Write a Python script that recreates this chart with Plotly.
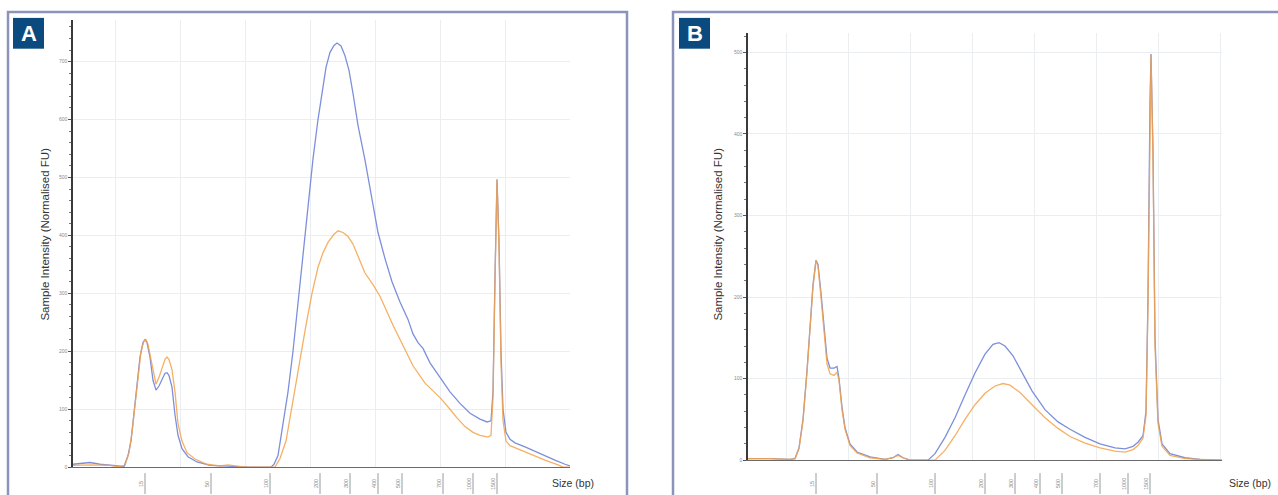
import plotly.graph_objects as go

W, H = 1278, 495

# ---------------- data ----------------
# migration position units (arbitrary), intensity (normalised FU)
a_blue_x = [0, 1.4, 3.4, 5.4, 7.4, 9, 10.2, 11, 11.6, 12.2, 12.8, 13.4, 14, 14.4, 14.8, 15.4, 16, 16.6, 17.2, 17.8,
            18.4, 18.8, 19.2, 19.8, 20.4, 21, 21.8, 23, 24.8, 27.4, 31.4, 35.4, 39.6, 40.2, 41, 42, 43, 44, 45, 46,
            47, 48, 49, 49.8, 50.6, 51.4, 52.2, 52.8, 53.6, 54.4, 55.2, 56, 57, 58.4, 59.8, 61, 62.4, 63.8, 65.4,
            67, 68, 69, 70, 71.4, 73.4, 75.4, 77.4, 79.4, 81.4, 82.8, 83.6, 84, 84.4, 84.8, 85.2, 85.6, 86, 86.6,
            87.4, 88.4, 90.4, 93.4, 96.4, 98.4, 99.4]
a_blue_y = [5, 6, 8, 5, 4, 2, 1, 20, 45, 95, 140, 190, 215, 220, 215, 190, 150, 133, 140, 152,
            162, 163, 158, 138, 90, 55, 32, 18, 9, 3, 1, 0, 0, 5, 20, 74, 130, 200, 283, 370,
            455, 532, 600, 647, 690, 716, 728, 732, 727, 710, 685, 645, 590, 530, 462, 405, 360, 320, 285,
            255, 230, 215, 205, 180, 155, 130, 110, 93, 83, 78, 80, 130, 330, 497, 390, 200, 100, 60,
            48, 42, 35, 23, 12, 5, 2]

a_orange_x = [0, 3.4, 7.4, 9, 10.4, 11.2, 11.8, 12.4, 13, 13.6, 14.2, 14.6, 15, 15.6, 16.2, 16.6, 17.2, 17.8, 18.4,
              18.8, 19.2, 19.8, 20.4, 21, 21.8, 22.8, 24.4, 26.8, 29.4, 31, 32.2, 34.4, 40.4, 41.4, 42.6, 44,
              45.4, 46.6, 47.8, 49, 50, 51, 52.2, 53, 54, 55, 56, 57, 58.4, 60, 61.4, 64, 66, 68, 70.4, 73.4,
              75.4, 76.8, 78.4, 80, 81.4, 83, 83.6, 84, 84.4, 84.8, 85.2, 85.6, 86, 86.6, 87.4, 89.4, 91.4,
              94.4, 97, 98, 99.4]
a_orange_y = [3, 4, 3, 1, 3, 25, 60, 110, 160, 200, 218, 220, 212, 185, 155, 143, 155, 172, 186,
              190, 186, 168, 130, 75, 45, 25, 14, 5, 2, 4, 3, 0, 0, 15, 45, 115,
              190, 245, 300, 345, 370, 388, 402, 408, 405, 398, 385, 365, 335, 315, 295, 245, 210, 175, 145, 120,
              100, 85, 70, 60, 55, 52, 55, 120, 320, 495, 380, 180, 80, 45, 37, 30, 22,
              12, 4, 0, 0]

b_blue_x = [0, 4.4, 8.4, 9.4, 10.2, 11, 11.8, 12.4, 13, 13.6, 14, 14.6, 15.2, 15.8, 16.4, 17.2, 17.8, 18.2, 18.8,
            19.4, 20.4, 21.8, 24.4, 27.4, 29, 30, 31, 32.4, 36, 37.4, 39.4, 41.4, 43.4, 45.4, 47.4, 49, 50.2,
            51.4, 53, 54.8, 56.8, 59.4, 62, 64.4, 67.4, 70.4, 73.4, 75.4, 77, 78, 79, 79.6, 80, 80.4, 80.6,
            81, 81.4, 82, 82.8, 84.4, 87.4, 90.4, 94.8]
b_blue_y = [2, 2, 1, 2, 15, 50, 110, 165, 215, 245, 240, 205, 160, 125, 113, 113, 115, 100, 65,
            40, 20, 10, 4, 1, 3, 7, 3, 0, 0, 8, 28, 52, 80, 107, 130, 142, 144,
            140, 128, 108, 85, 62, 47, 38, 28, 20, 15, 14, 17, 22, 30, 60, 200, 440, 498,
            380, 150, 50, 20, 8, 3, 1, 0]

b_orange_x = [0, 4.4, 8.4, 9.4, 10.2, 11, 11.8, 12.4, 13, 13.6, 14, 14.6, 15.2, 15.8, 16.4, 17.2, 17.8, 18.2, 18.8,
              19.4, 20.4, 21.8, 24.4, 27.4, 29, 30, 31, 32.4, 37.4, 39.4, 41.4, 43.4, 45.4, 47.4, 49.4, 51,
              52.4, 54.4, 56.8, 59.4, 62, 64.4, 67.4, 70.4, 73.4, 75.4, 77, 78, 79, 79.6, 80, 80.4, 80.6,
              81, 81.4, 82, 82.8, 84.4, 87.4, 90.4, 94.8]
b_orange_y = [2, 2, 1, 2, 14, 48, 108, 162, 213, 245, 238, 200, 155, 118, 106, 104, 108, 98, 62,
              38, 18, 9, 3, 1, 3, 6, 3, 0, 0, 12, 30, 50, 68, 82, 91, 94,
              92, 83, 68, 52, 39, 29, 21, 15, 11, 10, 13, 18, 27, 55, 190, 430, 497,
              370, 140, 45, 17, 6, 2, 1, 0]

size_labels = ["15", "50", "100", "200", "300", "400", "500", "700", "1000", "1500"]
a_ladder_pos = [14.4, 27.6, 39.4, 49.4, 55.4, 61.0, 65.8, 74.0, 80.0, 84.8]
b_ladder_pos = [13.6, 25.8, 37.4, 47.4, 53.4, 58.4, 62.8, 70.4, 76.0, 80.4]

# ---------------- styling ----------------
BLUE = "#7d90dc"
ORANGE = "#f5a34a"
GRID = "#ebeef1"
FRAME = "#8b93bb"
BADGE = "#0b4a7f"

def px_x(p):
    return p / W

def px_y(p):
    return 1 - p / H

fig = go.Figure()
fig.add_trace(go.Scatter(x=a_blue_x, y=a_blue_y, mode="lines", line=dict(color=BLUE, width=1.3),
                         xaxis="x", yaxis="y", showlegend=False, hoverinfo="skip"))
fig.add_trace(go.Scatter(x=a_orange_x, y=a_orange_y, mode="lines", line=dict(color=ORANGE, width=1.3),
                         opacity=0.85, xaxis="x", yaxis="y", showlegend=False, hoverinfo="skip"))
fig.add_trace(go.Scatter(x=b_blue_x, y=b_blue_y, mode="lines", line=dict(color=BLUE, width=1.3),
                         xaxis="x2", yaxis="y2", showlegend=False, hoverinfo="skip"))
fig.add_trace(go.Scatter(x=b_orange_x, y=b_orange_y, mode="lines", line=dict(color=ORANGE, width=1.3),
                         opacity=0.85, xaxis="x2", yaxis="y2", showlegend=False, hoverinfo="skip"))

def yaxis_cfg(dom, rng, anchor):
    return dict(domain=dom, range=rng, anchor=anchor, showline=True, linecolor="#3a3a3a", linewidth=1.5,
                ticks="outside", ticklen=3, tickcolor="#555", dtick=100, tick0=0,
                tickfont=dict(size=5, color="#8a8a8a", family="Liberation Sans"),
                showgrid=True, gridcolor=GRID, gridwidth=1, zeroline=False,
                minor=dict(dtick=20, ticks="outside", ticklen=2, tickcolor="#777", showgrid=False),
                fixedrange=True)

def xaxis_cfg(dom, rng, anchor, t0, dt):
    return dict(domain=dom, range=rng, anchor=anchor, showline=True, linecolor="#6a6a6a", linewidth=1,
                showticklabels=False, ticks="", showgrid=True, gridcolor=GRID, gridwidth=1,
                tick0=t0, dtick=dt, zeroline=False, fixedrange=True)

layout = dict(
    width=W, height=H, margin=dict(l=0, r=0, t=0, b=0),
    paper_bgcolor="white", plot_bgcolor="white",
    xaxis=xaxis_cfg([px_x(73), px_x(570)], [0, 99.4], "y", 8.4, 13.0),
    yaxis=yaxis_cfg([px_y(470), px_y(20)], [0, 772], "x"),
    xaxis2=xaxis_cfg([px_x(748), px_x(1222)], [0, 94.8], "y2", 7.6, 12.4),
    yaxis2=yaxis_cfg([px_y(463), px_y(33)], [0, 524], "x2"),
)
fig.update_layout(**layout)

shapes = []
annotations = []

# panel frames and badges
for x0, x1, bx, letter in [(8, 627, 13, "A"), (673, 1292, 679, "B")]:
    shapes.append(dict(type="rect", xref="paper", yref="paper", x0=px_x(x0), x1=px_x(x1),
                       y0=-0.05, y1=px_y(12), line=dict(color=FRAME, width=2.5), fillcolor="rgba(0,0,0,0)"))
    shapes.append(dict(type="rect", xref="paper", yref="paper", x0=px_x(bx), x1=px_x(bx + 31),
                       y0=px_y(49), y1=px_y(18), line=dict(width=0), fillcolor=BADGE))
    annotations.append(dict(xref="paper", yref="paper", x=px_x(bx + 15.5), y=px_y(33.5), text="<b>%s</b>" % letter,
                            showarrow=False, font=dict(size=22, color="white", family="Liberation Sans"),
                            xanchor="center", yanchor="middle"))

# y-axis titles and size label
for tx, sx in [(45, 573), (718, 1250)]:
    annotations.append(dict(xref="paper", yref="paper", x=px_x(tx), y=px_y(236),
                            text="Sample Intensity (Normalised FU)", textangle=-90, showarrow=False,
                            font=dict(size=11.5, color="#333", family="Liberation Sans"),
                            xanchor="center", yanchor="middle"))
    annotations.append(dict(xref="paper", yref="paper", x=px_x(sx), y=px_y(486), text="Size (bp)",
                            showarrow=False, font=dict(size=10.5, color="#333", family="Liberation Sans"),
                            xanchor="center", yanchor="middle"))

# ladder size ticks and labels
for xr, positions in [("x", a_ladder_pos), ("x2", b_ladder_pos)]:
    for pos, lab in zip(positions, size_labels):
        shapes.append(dict(type="line", xref=xr, yref="paper", x0=pos, x1=pos, y0=px_y(476), y1=px_y(497),
                           line=dict(color="#9a9a9a", width=1)))
        annotations.append(dict(xref=xr, yref="paper", x=pos, y=px_y(487), text=lab, textangle=-90,
                                showarrow=False, xshift=-4, xanchor="center", yanchor="middle",
                                font=dict(size=5.5, color="#888", family="Liberation Sans")))

fig.update_layout(shapes=shapes, annotations=annotations)
fig.write_html("out.html", config={"displayModeBar": False},
               post_script="document.body.style.margin='0px';document.body.style.overflow='hidden';")
